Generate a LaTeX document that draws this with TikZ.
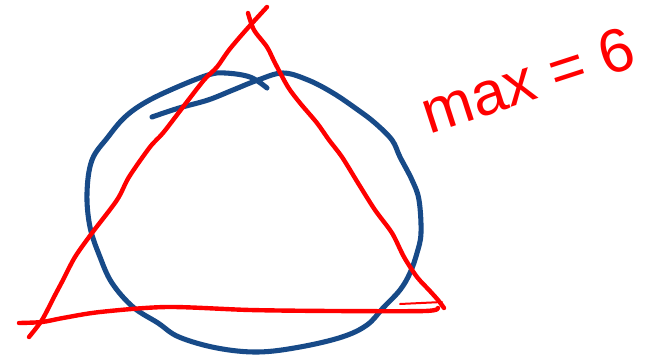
\documentclass[tikz,border=0pt]{standalone}
\usepackage{fontspec}
\setmainfont{Liberation Sans}
\definecolor{SketchRed}{HTML}{FF0000}
\definecolor{SketchBlue}{HTML}{174A88}

\begin{document}
\begin{tikzpicture}[x=0.75pt,y=-0.75pt,
  ink/.style={line width=3.3pt,line cap=round,line join=round},
  ring/.style={ink,draw=SketchBlue,line width=3.8pt},
  side/.style={ink,draw=SketchRed},
  note/.style={text=SketchRed,font=\fontsize{46}{50}\selectfont,inner sep=0pt}]
\useasboundingbox (0,0) rectangle (651,361);
% Blue circle, drawn by hand
\draw[ring] plot[smooth,tension=0.6] coordinates {
  (152,117) (179,108) (208,100) (233,90) (258,80) (283,73) (308,80)
  (333,93) (358,110) (375,123) (392,140) (400,157) (412,180) (419,200)
  (421,233) (417,253) (410,273) (400,290) (383,308) (367,325) (342,337)
  (300,347) (258,352) (217,348) (179,337) (158,323) (133,307) (112,283)
  (100,257) (90,227) (87,193) (92,160) (108,137) (125,117) (146,102)
  (175,88) (208,75) (225,73) (250,77) (267,88)};
% Red triangle
\draw[side] plot[smooth,tension=0.5] coordinates {
  (29,337) (42,320) (54,297) (63,280) (75,257) (92,233) (117,200) (129,177)
  (150,147) (163,133) (183,107) (204,80) (217,67) (229,50) (246,30) (267,7)};
\draw[side] plot[smooth,tension=0.5] coordinates {
  (248,13) (254,30) (267,47) (275,63) (288,87) (300,103) (317,123) (329,140)
  (342,157) (358,183) (375,210) (392,233) (404,257) (417,277) (429,290)
  (438,300) (444,308)};
\draw[side] plot[smooth,tension=0.5] coordinates {
  (19,323) (42,322) (63,318) (100,312) (167,307) (250,310) (333,311)
  (425,311) (438,308)};
\draw[side,line width=1.5pt] (400,304) -- (442,302);
% Label
\node[note,rotate=18] (maxlabel) at (528,80) {max = 6};
\end{tikzpicture}
\end{document}
